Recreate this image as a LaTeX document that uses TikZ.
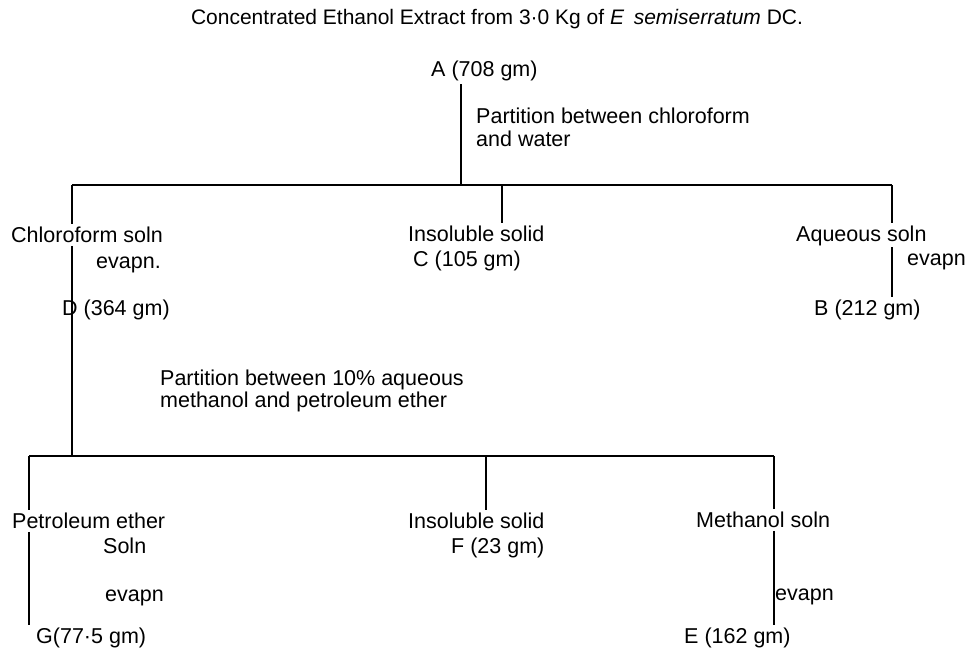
\documentclass[tikz,border=0pt]{standalone}
\usepackage{fontspec}
\setmainfont{Liberation Sans}
\begin{document}
\begin{tikzpicture}[x=1pt,y=1pt,
  lbl/.style={inner sep=3pt, anchor=base west, font=\fontsize{21.5}{24}\selectfont},
  ttl/.style={inner sep=3pt, anchor=base, font=\fontsize{21}{24}\selectfont},
  link/.style={line width=1.2pt, black}]
\useasboundingbox (0,0) rectangle (968,-650);
% title
\node[ttl] (title) at (497,-24.5) {Concentrated Ethanol Extract from 3·0 Kg of \textit{E}\hspace{0.45em}\textit{semiserratum} DC.};
% level 1
\node[lbl] (A) at (428,-76.5) {A (708 gm)};
\node[lbl] (P1a) at (473,-123.5) {Partition between chloroform};
\node[lbl] (P1b) at (473,-146.5) {and water};
\node[lbl] (Chl) at (8,-242.5) {Chloroform soln};
\node[lbl] (ev1) at (93,-268.5) {evapn.};
\node[lbl] (D) at (59,-315.5) {D (364 gm)};
\node[lbl] (Ins1) at (405,-241.5) {Insoluble solid};
\node[lbl] (C) at (410,-266.5) {C (105 gm)};
\node[lbl] (Aq) at (793,-241.5) {Aqueous soln};
\node[lbl] (ev2) at (904,-265.5) {evapn};
\node[lbl] (B) at (811,-315.5) {B (212 gm)};
% level 2
\node[lbl] (P2a) at (157,-385.5) {Partition between 10\% aqueous};
\node[lbl] (P2b) at (157,-407.5) {methanol and petroleum ether};
\node[lbl] (Pet) at (9,-528.5) {Petroleum ether};
\node[lbl] (Sol) at (100,-553.5) {Soln};
\node[lbl] (ev3) at (102,-601.5) {evapn};
\node[lbl] (G) at (33,-643.5) {G(77·5 gm)};
\node[lbl] (Ins2) at (405,-528.5) {Insoluble solid};
\node[lbl] (F) at (448,-553.5) {F (23 gm)};
\node[lbl] (Met) at (693,-527.5) {Methanol soln};
\node[lbl] (ev4) at (772,-600.5) {evapn};
\node[lbl] (E) at (681,-643.5) {E (162 gm)};
% junctions
\coordinate (jA) at (461,-185);
\coordinate (jL) at (72,-185);
\coordinate (jM) at (502,-185);
\coordinate (jR) at (892,-185);
\coordinate (kL) at (29,-456);
\coordinate (kD) at (72,-456);
\coordinate (kM) at (486,-456);
\coordinate (kR) at (774,-456);
% connectors
\draw[link] (A.south -| jA) -- (jA);
\draw[link] (jL) -- (jR);
\draw[link] (jL) -- (Chl.north -| jL);
\draw[link] (Chl.south -| jL) -- (kD);
\draw[link] (jM) -- (Ins1.north -| jM);
\draw[link] (jR) -- (Aq.north -| jR);
\draw[link] (Aq.south -| jR) ++(0,2) -- (B.north -| jR);
\draw[link] (kL) -- (kR);
\draw[link] (kL) -- (Pet.north -| kL);
\draw[link] (Pet.south -| kL) -- (G.north -| kL);
\draw[link] (kM) -- (Ins2.north -| kM);
\draw[link] (kR) -- (Met.north -| kR);
\draw[link] (Met.south -| kR) -- (E.north -| kR);
\end{tikzpicture}
\end{document}
